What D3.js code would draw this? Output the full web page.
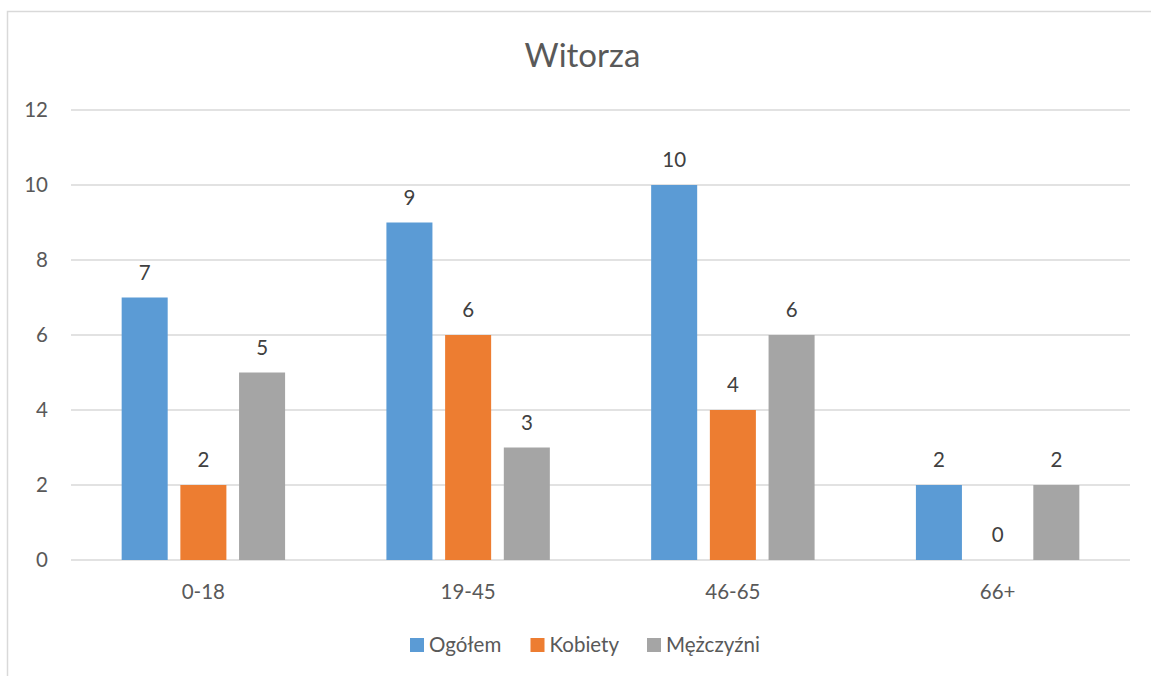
<!DOCTYPE html>
<html><head><meta charset="utf-8">
<script src="https://cdn.jsdelivr.net/npm/d3@7"></script>
<style>body{margin:0;background:#fff}svg{display:block}</style>
</head><body>
<svg id="c" width="1151" height="676"></svg>
<script>
const categories = ["0-18", "19-45", "46-65", "66+"];
const seriesNames = ["Ogółem", "Kobiety", "Mężczyźni"];
const ogolem = [7, 9, 10, 2];
const kobiety = [2, 6, 4, 0];
const mezczyzni = [5, 3, 6, 2];
const yTicks = [0, 2, 4, 6, 8, 10, 12];
const colors = ["#5B9BD5", "#ED7D31", "#A5A5A5"];
const title = "Witorza";

const seriesValues = [ogolem, kobiety, mezczyzni];
const font = "Lato, Calibri, 'Open Sans', sans-serif";
const textColor = "#595959";
const fs = 20.5;
const svg = d3.select("#c");

// chart border (left & top visible)
svg.append("rect").attr("x", 7.5).attr("y", 11.5).attr("width", 1160).attr("height", 700)
  .attr("fill", "none").attr("stroke", "#D9D9D9").attr("stroke-width", 1.5);

const plot = {left: 71, right: 1130, top: 110, bottom: 560};
const x = d3.scaleBand().domain(categories).range([plot.left, plot.right]).paddingInner(0).paddingOuter(0);
const y = d3.scaleLinear().domain([0, 12]).range([plot.bottom, plot.top]);
const xs = d3.scaleBand().domain(seriesNames).range([0, x.bandwidth()]).paddingInner(0.216).paddingOuter(0.863);

// gridlines
svg.append("g").selectAll("line").data(yTicks).join("line")
  .attr("x1", plot.left).attr("x2", plot.right)
  .attr("y1", d => y(d)).attr("y2", d => y(d))
  .attr("stroke", "#D9D9D9").attr("stroke-width", 1.3);

// y labels
svg.append("g").selectAll("text").data(yTicks).join("text")
  .attr("x", 48).attr("y", d => y(d)).attr("dy", "0.36em")
  .attr("text-anchor", "end").attr("font-family", font).attr("font-size", fs)
  .attr("fill", textColor).text(d => d);

// bars
const groups = svg.append("g").selectAll("g").data(categories).join("g")
  .attr("transform", d => `translate(${x(d)},0)`);
groups.selectAll("rect").data((c, i) => seriesNames.map((s, k) => ({s, k, v: seriesValues[k][i]}))).join("rect")
  .attr("x", d => xs(d.s)).attr("width", xs.bandwidth())
  .attr("y", d => y(d.v)).attr("height", d => y(0) - y(d.v))
  .attr("fill", d => colors[d.k]);
groups.selectAll("text").data((c, i) => seriesNames.map((s, k) => ({s, k, v: seriesValues[k][i]}))).join("text")
  .attr("x", d => xs(d.s) + xs.bandwidth() / 2).attr("y", d => y(d.v) - 18)
  .attr("text-anchor", "middle").attr("font-family", font).attr("font-size", fs)
  .attr("fill", "#404040").text(d => d.v);

// x labels
svg.append("g").selectAll("text").data(categories).join("text")
  .attr("x", d => x(d) + x.bandwidth() / 2).attr("y", 599)
  .attr("text-anchor", "middle").attr("font-family", font).attr("font-size", fs)
  .attr("fill", textColor).text(d => d);

// title
svg.append("text").attr("x", 582.5).attr("y", 67).attr("text-anchor", "middle")
  .attr("font-family", font).attr("font-size", 33).attr("fill", textColor).text(title);

// legend
const legendX = [410, 530.5, 647];
const lg = svg.append("g").selectAll("g").data(seriesNames).join("g")
  .attr("transform", (d, i) => `translate(${legendX[i]},638)`);
lg.append("rect").attr("width", 14).attr("height", 14).attr("fill", (d, i) => colors[i]);
lg.append("text").attr("x", 19).attr("y", 7).attr("dy", "0.36em")
  .attr("font-family", font).attr("font-size", fs).attr("fill", textColor).text(d => d);
</script>
</body></html>
